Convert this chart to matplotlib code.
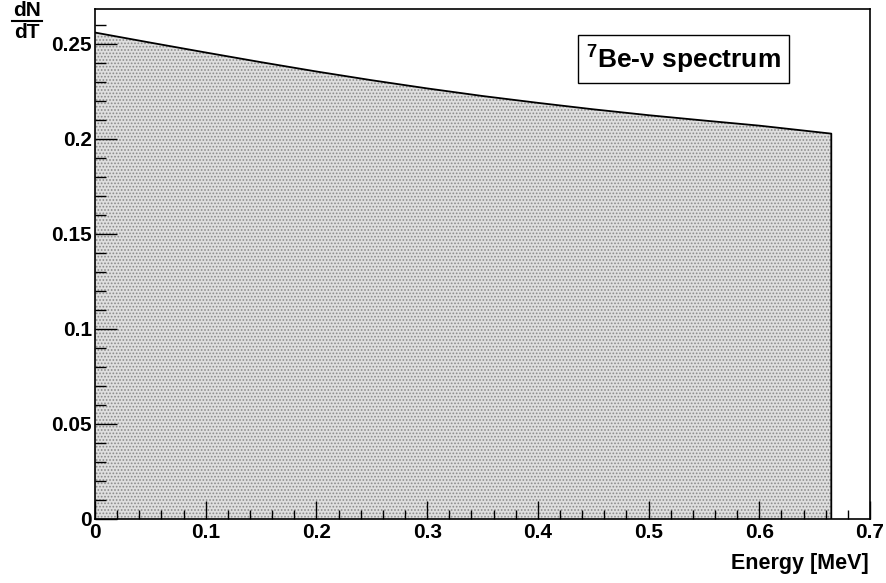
# 7Be-nu recoil spectrum, ROOT-like style
import matplotlib.pyplot as plt
from matplotlib.lines import Line2D
from matplotlib.ticker import MultipleLocator, FormatStrFormatter

plt.rcParams['font.family'] = ['Liberation Sans', 'DejaVu Sans']
plt.rcParams['font.weight'] = 'bold'
plt.rcParams['mathtext.fontset'] = 'custom'
plt.rcParams['mathtext.rm'] = 'Liberation Sans:bold'
plt.rcParams['mathtext.bf'] = 'Liberation Sans:bold'
plt.rcParams['hatch.linewidth'] = 0.8

# values
energy = [0.0, 0.05, 0.1, 0.15, 0.2, 0.25, 0.3, 0.35, 0.4, 0.45, 0.5, 0.55, 0.6, 0.665]
dndt = [0.2560, 0.2507, 0.2455, 0.2404, 0.2355, 0.2309, 0.2266, 0.2226, 0.2190,
        0.2156, 0.2125, 0.2097, 0.2070, 0.2028]

W, H = 886, 583
fig = plt.figure(figsize=(W / 100, H / 100), dpi=100)
ax = fig.add_axes([0.1072, 0.1098, 0.8748, 0.8748])

ax.fill_between(energy, 0, dndt, facecolor='#dedede', edgecolor='#8a8a8a',
                hatch='.....', linewidth=0)
ax.plot(energy + [energy[-1]], dndt + [0], color='black', lw=1.3)

ax.set_xlim(0, 0.7)
ax.set_ylim(0, 0.2684)

ax.xaxis.set_major_locator(MultipleLocator(0.1))
ax.xaxis.set_minor_locator(MultipleLocator(0.02))
ax.yaxis.set_major_locator(MultipleLocator(0.05))
ax.yaxis.set_minor_locator(MultipleLocator(0.01))
ax.xaxis.set_major_formatter(FormatStrFormatter('%g'))
ax.yaxis.set_major_formatter(FormatStrFormatter('%g'))
ax.tick_params(axis='both', which='both', direction='in', top=False, right=False,
               labelsize=15, width=1)
ax.tick_params(axis='x', which='major', length=13, pad=3)
ax.tick_params(axis='x', which='minor', length=6.5)
ax.tick_params(axis='y', which='major', length=16, pad=2)
ax.tick_params(axis='y', which='minor', length=8)
for s in ax.spines.values():
    s.set_linewidth(1.2)

fig.text(0.98, 0.033, 'Energy [MeV]', ha='right', va='center', fontsize=15.5,
         fontweight='bold')

# y title as a fraction dN/dT
fig.text(27 / W, 1 - 11 / H, 'dN', ha='center', va='center', fontsize=15,
         fontweight='bold')
fig.add_artist(Line2D([12 / W, 42 / W], [1 - 21 / H, 1 - 21 / H],
                      color='black', lw=1.5))
fig.text(27 / W, 1 - 32 / H, 'dT', ha='center', va='center', fontsize=15,
         fontweight='bold')

ax.text(0.759, 0.902, r'$^{\mathbf{7}}$Be-ν spectrum', transform=ax.transAxes,
        ha='center', va='center', fontsize=19, fontweight='bold',
        bbox=dict(boxstyle='square,pad=0.3', facecolor='white',
                  edgecolor='black', lw=1))

fig.savefig('out.png', dpi=100)
